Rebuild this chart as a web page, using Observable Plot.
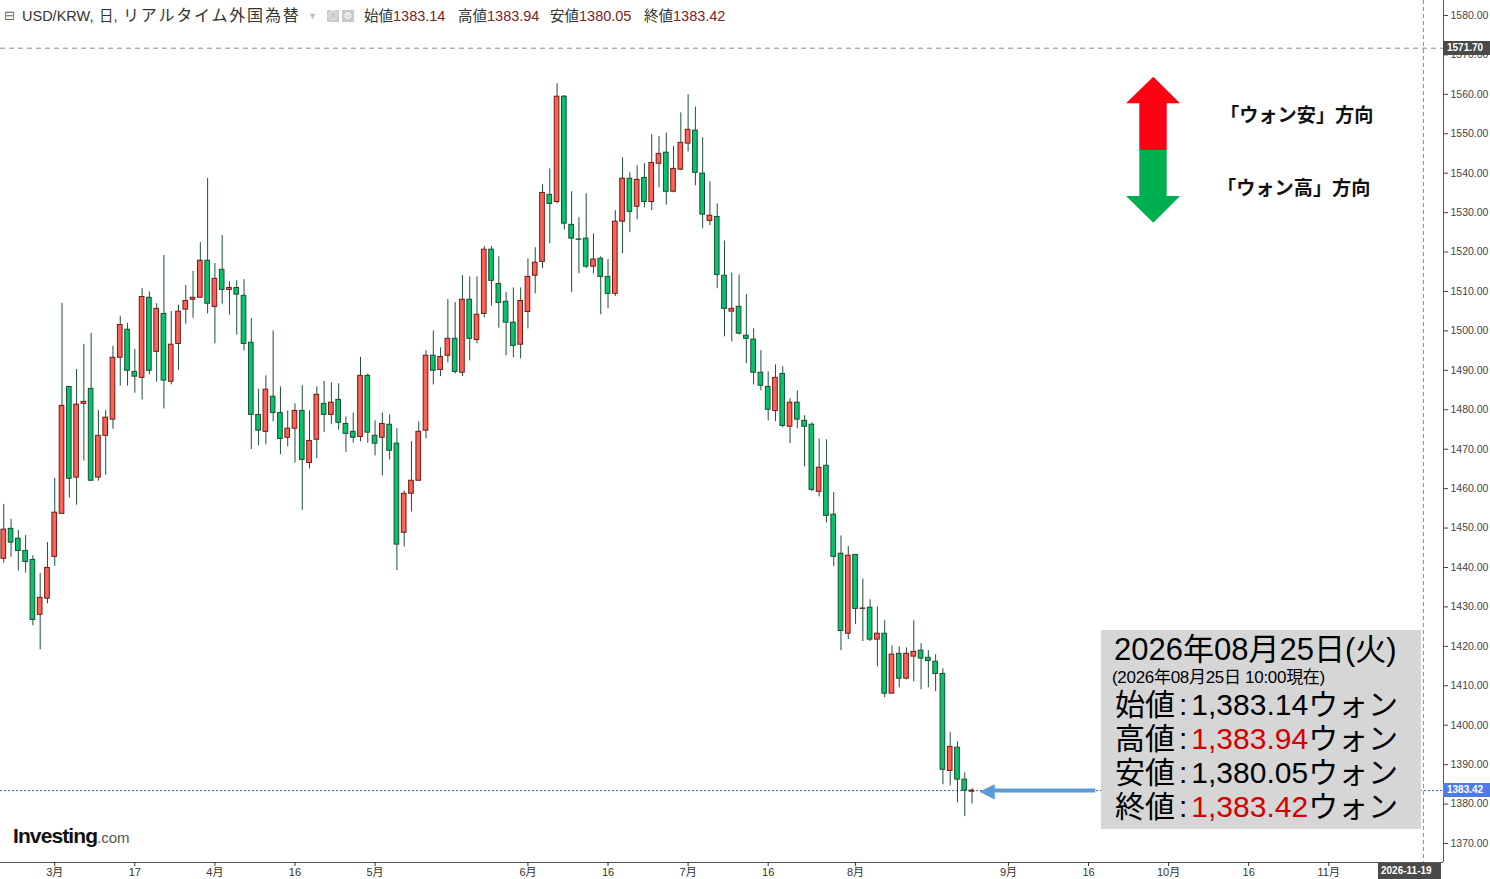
<!DOCTYPE html>
<html><head><meta charset="utf-8">
<script src="https://cdn.jsdelivr.net/npm/d3@7"></script>
<script src="https://cdn.jsdelivr.net/npm/@observablehq/plot@0.6"></script>
<style>
body{margin:0;background:#fff;}
#wrap{position:relative;width:1490px;height:879px;overflow:hidden;font-family:"Liberation Sans","Noto Sans CJK JP",sans-serif;}
#wrap svg{position:absolute;left:0;top:0;}
.abs{position:absolute;white-space:nowrap;}
.hd{top:8px;font-size:14.5px;line-height:16px;color:#333;}
.hv{color:#7b2323;}
.ib{position:absolute;left:13px;white-space:nowrap;color:#000;font-family:"Liberation Sans","Noto Sans CJK JP",sans-serif;}
.tag{position:absolute;height:14px;line-height:14px;font-size:10px;font-weight:bold;color:#fff;padding-left:4px;box-sizing:border-box;}
.lg{position:absolute;font-family:"Noto Sans CJK JP",sans-serif;font-weight:bold;font-size:19.2px;line-height:24px;color:#111;white-space:nowrap;}
</style></head><body><div id="wrap"></div>
<script>
// ---------- data ----------
const startDate = "2026-02-19";
const endDate = "2026-11-19";
const open = [1442.2,1449.8,1447.3,1444.2,1441.9,1428.0,1432.1,1442.7,1453.6,1485.8,
1462.8,1481.5,1485.3,1462.8,1473.4,1477.5,1493.2,1500.3,1489.6,1488.1,
1508.4,1494.7,1504.3,1487.1,1496.7,1505.4,1507.9,1508.4,1517.8,1506.1,
1515.5,1510.4,1510.9,1508.9,1497.0,1478.7,1474.4,1483.3,1479.2,1472.9,
1475.2,1479.7,1466.5,1472.4,1481.5,1478.7,1482.5,1476.4,1474.4,1473.1,
1488.6,1473.4,1472.9,1476.2,1471.4,1448.8,1458.7,1462.0,1474.7,1493.7,
1490.1,1493.7,1498.0,1489.4,1507.9,1497.7,1504.3,1520.6,1511.9,1507.4,
1502.1,1496.5,1504.8,1514.0,1517.5,1534.5,1532.7,1559.4,1526.9,1523.2,
1523.4,1516.3,1518.3,1513.7,1509.4,1527.7,1538.6,1531.5,1538.8,1532.7,
1542.4,1545.2,1535.3,1540.9,1547.5,1550.8,1539.9,1527.9,1528.9,1514.0,
1504.9,1506.1,1498.8,1497.8,1489.4,1485.8,1479.7,1489.1,1475.7,1481.8,
1477.2,1476.2,1459.2,1465.8,1453.4,1443.5,1423.2,1443.2,1429.5,1429.8,
1421.7,1423.2,1408.0,1418.1,1411.8,1417.4,1418.9,1417.1,1416.1,1413.0,
1388.4,1394.3,1386.2,1383.14];
const high = [1456.0,1452.2,1449.4,1448.1,1443.0,1438.5,1446.3,1462.6,1507.0,1485.8,
1490.2,1496.6,1499.4,1479.8,1479.8,1496.1,1503.7,1501.9,1495.3,1510.7,
1509.9,1506.9,1519.1,1504.9,1506.5,1511.5,1515.1,1522.4,1538.7,1517.1,
1524.2,1512.5,1512.7,1513.0,1503.1,1485.2,1488.6,1500.0,1485.8,1479.7,
1481.5,1486.1,1479.7,1485.8,1487.2,1486.8,1486.6,1478.2,1479.2,1493.3,
1489.1,1477.2,1479.2,1478.7,1475.2,1459.4,1471.9,1476.9,1495.0,1500.0,
1495.7,1508.0,1507.2,1514.0,1513.7,1513.7,1521.4,1521.4,1518.8,1509.7,
1510.9,1510.9,1518.3,1521.1,1537.1,1541.1,1562.7,1559.7,1535.3,1528.7,
1534.8,1524.6,1518.8,1518.1,1530.5,1543.9,1540.1,1541.9,1542.4,1549.8,
1549.3,1550.2,1546.8,1555.3,1559.9,1556.8,1549.0,1537.8,1532.2,1522.8,
1514.7,1514.2,1509.2,1500.5,1495.0,1489.6,1491.4,1490.9,1482.8,1484.8,
1478.5,1476.7,1472.6,1472.4,1459.0,1448.0,1445.3,1443.2,1437.1,1431.8,
1430.0,1426.5,1420.1,1419.9,1419.6,1426.5,1420.7,1418.9,1417.9,1414.3,
1398.1,1395.8,1387.9,1383.94];
const low = [1441.1,1442.6,1439.1,1438.6,1425.2,1419.1,1430.8,1440.3,1453.6,1457.6,
1455.8,1467.0,1462.0,1461.9,1463.4,1475.1,1486.0,1486.0,1484.2,1482.5,
1488.9,1487.0,1480.2,1486.3,1490.0,1501.7,1503.2,1508.4,1504.3,1496.7,
1506.8,1504.0,1498.9,1494.9,1469.9,1470.9,1471.1,1476.9,1468.6,1470.6,
1466.5,1454.5,1465.0,1467.6,1474.2,1476.2,1474.8,1469.2,1471.5,1471.9,
1471.5,1468.3,1463.2,1467.3,1439.2,1445.2,1454.1,1462.0,1472.6,1486.3,
1488.4,1491.9,1489.1,1488.4,1492.4,1496.7,1503.3,1506.3,1500.7,1493.7,
1493.2,1492.9,1500.5,1509.4,1515.8,1522.1,1532.2,1525.6,1509.7,1514.5,
1515.8,1514.5,1504.1,1505.6,1508.7,1519.6,1524.9,1528.2,1531.2,1530.5,
1536.3,1531.9,1535.0,1540.6,1545.4,1536.8,1525.9,1526.7,1510.7,1498.5,
1497.2,1499.0,1491.7,1486.3,1484.8,1477.2,1477.0,1475.4,1471.4,1475.2,
1465.5,1459.2,1457.9,1451.3,1440.2,1418.9,1421.7,1425.5,1421.2,1421.2,
1414.8,1407.0,1408.0,1409.5,1411.5,1411.0,1409.0,1409.5,1408.5,1384.9,
1384.6,1380.3,1376.8,1380.05];
const close = [1449.6,1446.3,1444.2,1441.4,1426.7,1432.3,1439.9,1453.9,1481.0,1462.5,
1481.3,1482.0,1462.0,1473.4,1478.0,1493.2,1501.5,1489.9,1488.4,1508.6,
1489.9,1505.6,1487.4,1496.5,1504.9,1507.6,1508.4,1517.8,1506.9,1513.2,
1510.4,1510.9,1509.2,1496.7,1478.7,1474.7,1485.1,1479.2,1472.6,1475.2,
1479.7,1467.3,1472.1,1483.8,1478.7,1481.8,1476.7,1473.9,1472.9,1488.6,
1474.2,1471.4,1476.4,1469.6,1445.8,1458.7,1462.0,1474.4,1493.7,1489.9,
1493.4,1498.0,1489.6,1507.9,1498.0,1504.1,1520.6,1512.7,1507.1,1502.1,
1496.2,1507.6,1513.7,1517.3,1535.0,1532.2,1559.4,1527.2,1523.4,1523.1,
1516.3,1518.1,1513.7,1509.4,1527.7,1538.6,1530.2,1538.3,1532.7,1542.6,
1544.9,1535.3,1541.1,1547.7,1551.0,1540.1,1529.5,1529.2,1514.2,1505.6,
1505.6,1499.3,1498.0,1489.4,1486.1,1480.0,1488.1,1475.9,1481.8,1477.5,
1475.7,1459.7,1465.3,1453.1,1442.7,1423.9,1443.0,1429.5,1429.6,1421.7,
1423.2,1408.0,1417.9,1411.8,1418.1,1418.6,1416.9,1416.3,1413.0,1388.7,
1394.5,1386.2,1383.4,1383.42];
const tickDates = ["2026-03-02","2026-03-17","2026-04-01","2026-04-16","2026-05-01","2026-06-01","2026-06-16","2026-07-01","2026-07-16","2026-08-03","2026-09-01","2026-09-16","2026-10-01","2026-10-16","2026-11-02"];
const tickLabels = ["3月","17","4月","16","5月","6月","16","7月","16","8月","9月","16","10月","16","11月"];
const yTicks = [1370,1380,1390,1400,1410,1420,1430,1440,1450,1460,1470,1480,1490,1500,1510,1520,1530,1540,1550,1560,1570,1580];
const alertLevel = 1571.70;
const headerValues = [["始値","1383.14"],["高値","1383.94"],["安値","1380.05"],["終値","1383.42"]];
const boxTitle = "2026年08月25日(火)";
const boxSub = "(2026年08月25日 10:00現在)";
const boxRows = [["始値","1,383.14",false],["高値","1,383.94",true],["安値","1,380.05",false],["終値","1,383.42",true]];
const legendTexts = ["「ウォン安」方向","「ウォン高」方向"];

// ---------- trading-day calendar ----------
const days = [];
for (let t = Date.parse(startDate + "T00:00:00Z"); t <= Date.parse(endDate + "T00:00:00Z"); t += 86400000) {
  const d = new Date(t), wd = d.getUTCDay();
  if (wd !== 0 && wd !== 6) days.push(d.toISOString().slice(0, 10));
}
const idx = new Map(days.map((d, i) => [d, i]));
const candles = open.map((o, i) => ({i, o, h: high[i], l: low[i], c: close[i], up: close[i] >= o}));
const last = candles[candles.length - 1];
const tickIdx = tickDates.map(d => idx.get(d));
const xDomain = [-0.45, days.length - 1 + 2.76];
const yDomain = [1365.18, 1583.8];

const UP_FILL = "#fb6255", UP_STROKE = "#6e1b16", DN_FILL = "#05c46b", DN_STROKE = "#1b4d32", WICK = "#1d5236";

const chart = Plot.plot({
  width: 1490, height: 879,
  marginLeft: 0, marginRight: 47, marginTop: 0, marginBottom: 17,
  style: {background: "transparent", fontFamily: "Liberation Sans, Noto Sans CJK JP, sans-serif", fontSize: "11px", color: "#444", overflow: "visible"},
  x: {type: "linear", domain: xDomain, label: null},
  y: {domain: yDomain, label: null},
  color: {type: "identity"},
  marks: [
    Plot.ruleY([alertLevel], {stroke: "#8a8a8a", strokeDasharray: "5,4"}),
    Plot.ruleX([idx.get(endDate)], {stroke: "#8a8a8a", strokeDasharray: "4,3"}),
    Plot.ruleY([last.c], {stroke: "#2f5fd0", strokeDasharray: "2,2", strokeWidth: 1}),
    Plot.ruleX(candles, {x: "i", y1: "l", y2: "h", stroke: WICK, strokeWidth: 1}),
    Plot.rect(candles, {
      x1: d => d.i - 0.32, x2: d => d.i + 0.32,
      y1: d => Math.min(d.o, d.c), y2: d => Math.max(d.o, d.c),
      fill: d => d.up ? UP_FILL : DN_FILL, stroke: d => d.up ? UP_STROKE : DN_STROKE, strokeWidth: 1
    }),
    Plot.ruleY([last], {y: "c", x1: d => d.i + 2.1, x2: d => d.i + 17, stroke: "#5b9bd5", strokeWidth: 4}),
    Plot.text([last], {x: d => d.i + 1, y: "c", text: () => "◀", textAnchor: "start", fill: "#5b9bd5", fontSize: 20, fontFamily: "DejaVu Sans"}),
    Plot.ruleY([yDomain[0]], {stroke: "#555"}),
    Plot.ruleX([xDomain[1]], {stroke: "#555"}),
    Plot.axisY({anchor: "right", ticks: yTicks, tickFormat: d => d.toFixed(2), tickSize: 4, tickPadding: 3, fontSize: 10.5, color: "#444"}),
    Plot.axisX({ticks: tickIdx, tickFormat: d => tickLabels[tickIdx.indexOf(d)], tickSize: 4, tickPadding: 2, fontSize: 11, color: "#333", label: null})
  ]
});

const wrap = document.getElementById("wrap");
wrap.appendChild(chart);
const ys = chart.scale("y");

function el(tag, cls, style, html) {
  const e = document.createElement(tag);
  if (cls) e.className = cls;
  Object.assign(e.style, style || {});
  if (html != null) e.innerHTML = html;
  wrap.appendChild(e);
  return e;
}

// header
el("div", "abs hd", {left: "4px", color: "#666", fontFamily: "DejaVu Sans", fontSize: "13px"}, "⊟");
el("div", "abs hd", {left: "22px"}, "USD/KRW,");
el("div", "abs hd", {left: "99px"}, "日,");
el("div", "abs hd", {left: "123px", fontSize: "16px", letterSpacing: "1.8px"}, "リアルタイム外国為替");
el("div", "abs hd", {left: "308px", color: "#bbb", fontSize: "9px"}, "▼");
el("div", "abs", {left: "327px", top: "10px", width: "12px", height: "12px", background: "#c9c9c9", color: "#fff", fontSize: "10px", lineHeight: "12px", textAlign: "center"}, "◎");
el("div", "abs", {left: "342px", top: "10px", width: "12px", height: "12px", background: "#c9c9c9", color: "#fff", fontSize: "10px", lineHeight: "12px", textAlign: "center", fontFamily: "DejaVu Sans"}, "⚙");
const hx = [364, 458, 550, 644];
headerValues.forEach(([k, v], j) => el("div", "abs hd", {left: hx[j] + "px"}, `${k}<span class="hv">${v}</span>`));

// right-axis tags
el("div", "tag", {left: "1443px", top: (ys.apply(alertLevel) - 7) + "px", width: "47px", background: "#4a4a4a"}, alertLevel.toFixed(2));
el("div", "tag", {left: "1443px", top: (ys.apply(last.c) - 7) + "px", width: "47px", background: "#4c7ce4"}, last.c.toFixed(2));
el("div", "tag", {left: "1378px", top: "863px", width: "63px", height: "16px", lineHeight: "16px", background: "#4a4a4a", paddingLeft: "3px"}, endDate);

// logo
el("div", "abs", {left: "13px", top: "824px", lineHeight: "24px"},
  `<span style="font-weight:bold;font-size:21px;letter-spacing:-0.9px;color:#111">Investing</span><span style="font-size:15px;color:#555">.com</span>`);

// legend arrows
el("div", "abs", {left: "1115px", top: "70px"},
  `<svg width="70" height="160" style="position:static">
    <polygon points="38.3,6.7 65,33.3 51.7,33.3 51.7,80 24.3,80 24.3,33.3 11,33.3" fill="#ff0012"/>
    <polygon points="24.3,80 51.7,80 51.7,126 65,126 38.3,152.7 11,126 24.3,126" fill="#00b050"/>
  </svg>`);
el("div", "lg", {left: "1220px", top: "102px"}, legendTexts[0]);
el("div", "lg", {left: "1217px", top: "175px"}, legendTexts[1]);

// info box
el("div", "abs", {left: "1101px", top: "630px", width: "320px", height: "199px", background: "#d6d6d6"});
el("div", "ib", {left: "1114px", top: "633px", fontSize: "31px", lineHeight: "34px"}, boxTitle);
el("div", "ib", {left: "1112px", top: "668px", fontSize: "17px", lineHeight: "20px", letterSpacing: "-0.3px"}, boxSub);
boxRows.forEach(([k, v, red], j) => el("div", "ib", {left: "1115px", top: (688 + j * 34) + "px", fontSize: "30px", lineHeight: "34px"},
  `${k}<span style="margin:0 4px">:</span><span style="color:${red ? "#d40000" : "#000"}">${v}</span>ウォン`));
</script></body></html>
